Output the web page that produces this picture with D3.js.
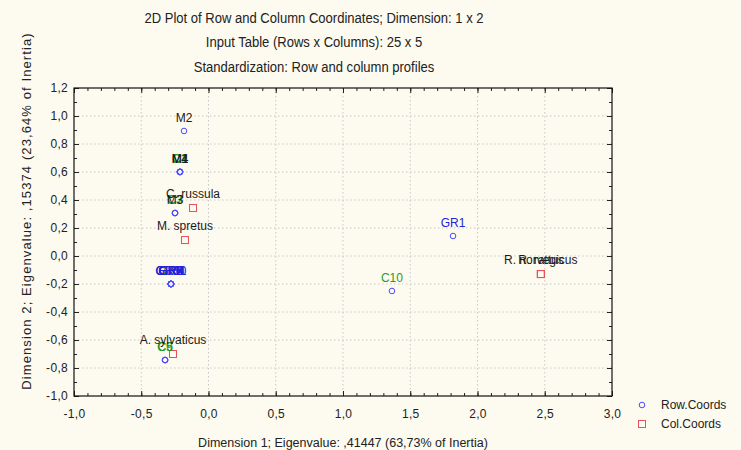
<!DOCTYPE html>
<html><head><meta charset="utf-8">
<script src="https://cdn.jsdelivr.net/npm/d3@7"></script>
<style>
body{margin:0;background:#fdfaf0;}
text{font-family:"Liberation Sans",Arial,sans-serif;}
</style></head>
<body><svg id="chart" width="741" height="450"></svg>
<script>
const titleLines = ["2D Plot of Row and Column Coordinates; Dimension:  1 x  2",
  "Input Table (Rows x Columns): 25 x 5",
  "Standardization: Row and column profiles"];
const xLabel = "Dimension 1; Eigenvalue: ,41447 (63,73% of Inertia)";
const yLabel = "Dimension 2; Eigenvalue: ,15374 (23,64% of Inertia)";
const xTicks = [-1.0,-0.5,0.0,0.5,1.0,1.5,2.0,2.5,3.0];
const yTicks = [-1.0,-0.8,-0.6,-0.4,-0.2,0.0,0.2,0.4,0.6,0.8,1.0,1.2];

const rowNames = ["C1","C2","C3","C4","C5","C6","C7","C8","C9","C10",
  "GR1","GR2","GR3","GR4","GR5","GR6","GR7","GR8","GR9","GR10","GR11",
  "M1","M2","M3","M4"];
const rowX = [-0.214,-0.213,-0.250,-0.211,-0.324,-0.322,-0.248,-0.279,-0.323,1.364,
  1.818,-0.280,-0.279,-0.278,-0.280,-0.279,-0.281,-0.278,-0.279,-0.280,-0.278,
  -0.212,-0.182,-0.249,-0.211];
const rowY = [0.601,0.599,0.306,0.602,-0.742,-0.744,0.308,-0.199,-0.743,-0.250,
  0.143,-0.200,-0.199,-0.201,-0.200,-0.199,-0.200,-0.201,-0.199,-0.200,-0.200,
  0.600,0.893,0.307,0.601];

const colNames = ["A. sylvaticus","C. russula","M. spretus","R. rattus","R. norvegicus"];
const colX = [-0.264,-0.115,-0.175,2.472,2.470];
const colY = [-0.700,0.343,0.114,-0.129,-0.129];

const legendItems = ["Row.Coords","Col.Coords"];

const svg = d3.select("#chart");
const W = 741, H = 450;
svg.append("rect").attr("width",W).attr("height",H).attr("fill","#fdfaf0");

const L = 74, R = 612, T = 88, B = 396;
const x = d3.scaleLinear().domain([-1,3]).range([L,R]);
const y = d3.scaleLinear().domain([-1,1.2]).range([B,T]);

// titles
svg.selectAll(".title").data(titleLines).join("text")
  .attr("x", 314).attr("y",(d,i)=>23+i*24.3)
  .attr("text-anchor","middle").attr("font-size",14.5).attr("fill","#222")
  .attr("transform",`translate(314,0) scale(0.9,1) translate(-314,0)`)
  .text(d=>d);

// grid
const grid = svg.append("g");
grid.selectAll(".gx").data(xTicks.slice(1,-1)).join("line")
  .attr("x1",d=>x(d)).attr("x2",d=>x(d)).attr("y1",T).attr("y2",B)
  .attr("stroke","#c8c8c8").attr("stroke-dasharray","1.5,2.5");
grid.selectAll(".gy").data(yTicks.slice(1,-1)).join("line")
  .attr("y1",d=>y(d)).attr("y2",d=>y(d)).attr("x1",L).attr("x2",R)
  .attr("stroke","#c8c8c8").attr("stroke-dasharray","1.5,2.5");

// axes with inward ticks
const xMinor = d3.range(-10,31).map(i=>i/10);
const yMinor = d3.range(-10,13).map(i=>i/10);
const ax = svg.append("g");
function tickAxis(axisFn, scale, vals, size, tr){
  const g = ax.append("g").attr("transform",tr)
    .call(axisFn(scale).tickValues(vals).tickSize(size).tickFormat(""));
  g.select(".domain").remove();
  g.selectAll("line").attr("stroke","#222");
}
tickAxis(d3.axisBottom, x, xMinor, -3, `translate(0,${B})`);
tickAxis(d3.axisTop, x, xMinor, -3, `translate(0,${T})`);
tickAxis(d3.axisLeft, y, yMinor, -3, `translate(${L},0)`);
tickAxis(d3.axisRight, y, yMinor, -3, `translate(${R},0)`);
tickAxis(d3.axisBottom, x, xTicks, -5, `translate(0,${B})`);
tickAxis(d3.axisTop, x, xTicks, -5, `translate(0,${T})`);
tickAxis(d3.axisLeft, y, yTicks, -5, `translate(${L},0)`);
tickAxis(d3.axisRight, y, yTicks, -5, `translate(${R},0)`);

const fmt = d => d3.format(".1f")(d).replace(".",",").replace("−","-");
const xl = svg.append("g").attr("transform",`translate(0,${B})`)
  .call(d3.axisBottom(x).tickValues(xTicks).tickSize(0).tickPadding(13).tickFormat(fmt));
xl.select(".domain").remove();
xl.selectAll("text").attr("font-size",12).attr("fill","#222").attr("letter-spacing","0.3").attr("font-family","Liberation Sans, Arial, sans-serif");
const yl = svg.append("g").attr("transform",`translate(${L},0)`)
  .call(d3.axisLeft(y).tickValues(yTicks).tickSize(0).tickPadding(6).tickFormat(fmt));
yl.select(".domain").remove();
yl.selectAll("text").attr("font-size",12).attr("fill","#222").attr("letter-spacing","0.3").attr("font-family","Liberation Sans, Arial, sans-serif");

svg.append("rect").attr("x",L).attr("y",T).attr("width",R-L).attr("height",B-T)
  .attr("fill","none").attr("stroke","#111").attr("stroke-width",1.2);

// axis titles
svg.append("text").attr("x",x(1)).attr("y",447).attr("text-anchor","middle")
  .attr("font-size",12.5).attr("fill","#222").text(xLabel);
svg.append("text").attr("transform",`translate(31,${211}) rotate(-90)`)
  .attr("text-anchor","middle").attr("font-size",13).attr("letter-spacing","1.1")
  .attr("fill","#222").text(yLabel);

// data
const rows = rowNames.map((n,i)=>({n,x:rowX[i],y:rowY[i]}));
const cols = colNames.map((n,i)=>({n,x:colX[i],y:colY[i]}));
const labelColor = n => n.startsWith("GR") ? "#2424d8" : n.startsWith("C") ? "#2a9a2a" : "#1a1a1a";

svg.append("g").selectAll("circle").data(rows).join("circle")
  .attr("cx",d=>x(d.x)).attr("cy",d=>y(d.y)).attr("r",2.8)
  .attr("fill","none").attr("stroke","#4a4aff").attr("stroke-width",1);
svg.append("g").selectAll("rect").data(cols).join("rect")
  .attr("x",d=>x(d.x)-3.5).attr("y",d=>y(d.y)-3.5).attr("width",7).attr("height",7)
  .attr("fill","none").attr("stroke","#e8505a").attr("stroke-width",1);

// labels: C then GR then M order to place black on top
const ordered = rows.slice().sort((a,b)=>{
  const r = n => n.startsWith("GR")?1:n.startsWith("C")?0:2; return r(a.n)-r(b.n);});
svg.append("g").selectAll("text").data(ordered).join("text")
  .attr("x",d=>x(d.x)).attr("y",d=>y(d.y)-9).attr("text-anchor","middle")
  .attr("font-size",12).attr("fill",d=>labelColor(d.n)).text(d=>d.n);
svg.append("g").selectAll("text").data(cols).join("text")
  .attr("x",d=>x(d.x)).attr("y",d=>y(d.y)-10).attr("text-anchor","middle")
  .attr("font-size",12).attr("fill","#1a1a1a").text(d=>d.n);

// legend
const lg = svg.append("g");
lg.append("circle").attr("cx",642).attr("cy",405).attr("r",2.8)
  .attr("fill","none").attr("stroke","#4a4aff");
lg.append("rect").attr("x",638.5).attr("y",420.5).attr("width",7).attr("height",7)
  .attr("fill","none").attr("stroke","#e8505a");
lg.selectAll("text").data(legendItems).join("text")
  .attr("x",661).attr("y",(d,i)=>409+i*19).attr("font-size",12).attr("fill","#222").text(d=>d);
</script></body></html>
